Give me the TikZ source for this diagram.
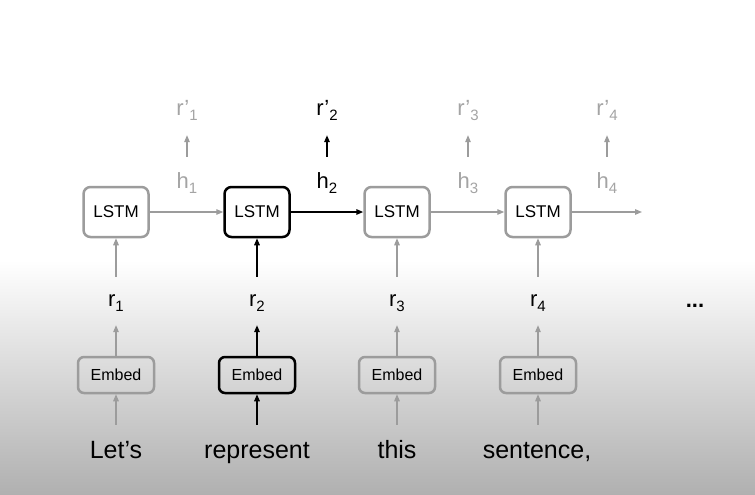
\documentclass[tikz,border=0pt]{standalone}
\usepackage{fontspec}
\setmainfont{Liberation Sans}
\usetikzlibrary{arrows.meta}
\definecolor{lg}{HTML}{9C9C9C}
\definecolor{tg}{HTML}{A4A4A4}
\definecolor{bgb}{HTML}{B0B0B0}
\newcommand\sbx[1]{\raisebox{-5pt}{\fontsize{15}{15}\selectfont #1}}
\begin{document}
\begin{tikzpicture}[x=1pt,y=-1pt,
  lstm/.style={draw=lg, line width=2.5pt, rounded corners=7pt, minimum width=65pt, minimum height=50pt, inner sep=0pt, font=\fontsize{17}{17}\selectfont},
  embed/.style={draw=lg, line width=2.5pt, rounded corners=6pt, minimum width=76pt, minimum height=36pt, inner sep=0pt, font=\fontsize{16}{16}\selectfont},
  hi/.style={draw=black},
  garr/.style={draw=lg, line width=1.2pt, -{Triangle[length=7pt,width=5.5pt]}},
  barr/.style={draw=black, line width=1.5pt, -{Triangle[length=7pt,width=5.5pt]}},
  rlab/.style={anchor=base, inner sep=0pt, font=\fontsize{22}{22}\selectfont, text height=12pt, text depth=4pt},
  hlab/.style={anchor=base, inner sep=0pt, font=\fontsize{22}{22}\selectfont, text height=16pt, text depth=6pt, text=tg},
  rplab/.style={anchor=base, inner sep=0pt, font=\fontsize{22}{22}\selectfont, text height=12pt, text depth=6pt, text=tg},
  word/.style={anchor=base, inner sep=0pt, font=\fontsize{25}{25}\selectfont, text height=18pt, text depth=5pt}
]
\useasboundingbox (0,0) rectangle (755,495);
\fill[white] (0,0) rectangle (755,262);
\shade[top color=white, bottom color=bgb] (0,260) rectangle (755,495);

% LSTM boxes
\node[lstm] (L1) at (116,212) {LSTM};
\node[lstm,hi] (L2) at (257,212) {LSTM};
\node[lstm] (L3) at (397,212) {LSTM};
\node[lstm] (L4) at (538,212) {LSTM};
\coordinate (Lend) at (642,212);

% Embed boxes
\node[embed] (E1) at (116,375) {Embed};
\node[embed,hi] (E2) at (257,375) {Embed};
\node[embed] (E3) at (397,375) {Embed};
\node[embed] (E4) at (538,375) {Embed};

% r labels
\node[rlab] (r1) at (116,306) {r\sbx{1}};
\node[rlab] (r2) at (257,306) {r\sbx{2}};
\node[rlab] (r3) at (397,306) {r\sbx{3}};
\node[rlab] (r4) at (538,306) {r\sbx{4}};
\node[anchor=base, inner sep=0pt, font=\fontsize{22}{22}\selectfont\bfseries] (dots) at (695,307) {...};

% h labels
\node[hlab] (h1) at (187,188) {h\sbx{1}};
\node[hlab,text=black] (h2) at (327,188) {h\sbx{2}};
\node[hlab] (h3) at (468,188) {h\sbx{3}};
\node[hlab] (h4) at (607,188) {h\sbx{4}};

% r' labels
\node[rplab] (p1) at (187,115) {r’\sbx{1}};
\node[rplab,text=black] (p2) at (327,115) {r’\sbx{2}};
\node[rplab] (p3) at (468,115) {r’\sbx{3}};
\node[rplab] (p4) at (607,115) {r’\sbx{4}};

% words
\node[word] (w1) at (116,458) {Let’s};
\node[word] (w2) at (257,458) {represent};
\node[word] (w3) at (397,458) {this};
\node[word] (w4) at (537,458) {sentence,};

% horizontal arrows
\draw[garr] (L1) -- (L2);
\draw[barr] (L2) -- (L3);
\draw[garr] (L3) -- (L4);
\draw[garr] (L4) -- (Lend);

% h -> r'
\draw[garr, shorten <=15pt, shorten >=14pt] (h1) -- (p1);
\draw[barr, shorten <=15pt, shorten >=14pt] (h2) -- (p2);
\draw[garr, shorten <=15pt, shorten >=14pt] (h3) -- (p3);
\draw[garr, shorten <=15pt, shorten >=14pt] (h4) -- (p4);

% r -> LSTM
\draw[garr, shorten <=17pt] (r1) -- (L1);
\draw[barr, shorten <=17pt] (r2) -- (L2);
\draw[garr, shorten <=17pt] (r3) -- (L3);
\draw[garr, shorten <=17pt] (r4) -- (L4);

% Embed -> r
\draw[garr, shorten >=15pt] (E1) -- (r1);
\draw[barr, shorten >=15pt] (E2) -- (r2);
\draw[garr, shorten >=15pt] (E3) -- (r3);
\draw[garr, shorten >=15pt] (E4) -- (r4);

% word -> Embed
\draw[garr, shorten <=15pt] (w1.north) -- (E1);
\draw[barr, shorten <=15pt] (w2.north) -- (E2);
\draw[garr, shorten <=15pt] (w3.north) -- (E3);
\draw[garr, shorten <=15pt] (w4.north -| E4) -- (E4);
\end{tikzpicture}
\end{document}
